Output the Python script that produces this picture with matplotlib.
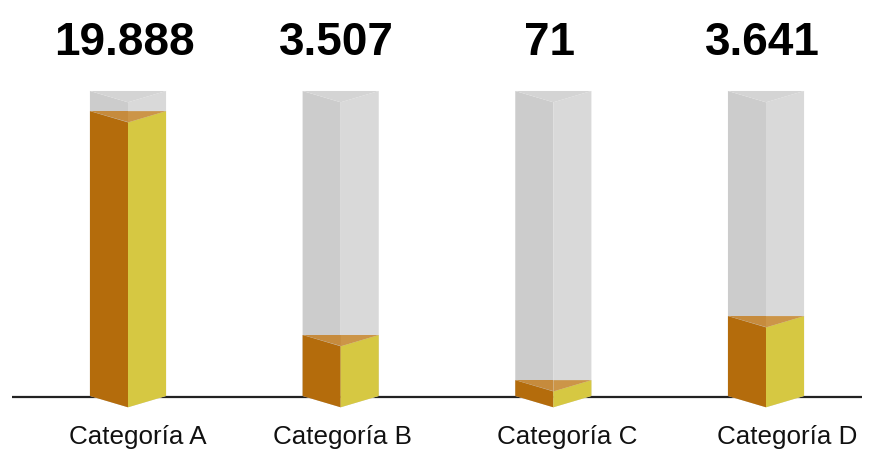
import matplotlib
matplotlib.use("Agg")
import matplotlib.pyplot as plt
from matplotlib.patches import Polygon
from matplotlib import font_manager

# Data
categories = ["Categoría A", "Categoría B", "Categoría C", "Categoría D"]
values = [19888, 3507, 71, 3641]
fill_pct = [93.4, 20.0, 5.2, 26.2]          # fill level of each column, in % of its height

# Styling
c_left = "#b46c0c"
c_right = "#d6c842"
c_top_l = "#c68b3d"
c_top_r = "#cc9548"
g_left = "#cccccc"
g_right = "#d9d9d9"
g_top = "#d4d4d4"

half_w = 0.179      # half width of a column (x units)
depth = 3.7         # drop of the front edge (y units)
label_shift = [0.045, 0.009, 0.066, 0.099]


def has_font(name):
    try:
        font_manager.findfont(font_manager.FontProperties(family=name),
                              fallback_to_default=False)
        return True
    except Exception:
        return False


narrow = "Liberation Sans Narrow" if has_font("Liberation Sans Narrow") else None

fig = plt.figure(figsize=(8.75, 4.56), dpi=100)
ax = fig.add_axes([0, 0, 1, 1])
ax.set_xlim(-0.6019, 3.5125)
ax.set_ylim(-19.34, 130.16)
ax.axis("off")

# baseline
ax.plot([-0.545, 3.451], [-0.4, -0.4], color="#222222", lw=1.6, zorder=1,
        solid_capstyle="butt")


def face(pts, color, z):
    ax.add_patch(Polygon(pts, closed=True, facecolor=color, edgecolor="none",
                         zorder=z, antialiased=True))


for i, (val, p) in enumerate(zip(values, fill_pct)):
    x = i
    l, r = x - half_w, x + half_w
    # container
    face([(l, 0), (x, -depth), (x, 100 - depth), (l, 100)], g_left, 2)
    face([(x, -depth), (r, 0), (r, 100), (x, 100 - depth)], g_right, 2)
    face([(l, 100), (r, 100), (x, 100 - depth)], g_top, 2)
    # fill
    face([(l, 0), (x, -depth), (x, p - depth), (l, p)], c_left, 3)
    face([(x, -depth), (r, 0), (r, p), (x, p - depth)], c_right, 3)
    face([(l, p), (x, p), (x, p - depth)], c_top_l, 4)
    face([(x, p), (r, p), (x, p - depth)], c_top_r, 4)

    txt = f"{val:,}".replace(",", ".")
    if narrow:
        ax.text(x - 0.018, 112.2, txt, ha="center", va="baseline",
                fontsize=38.9, fontweight="bold", family=narrow,
                color="#000000", zorder=5)
    else:
        ax.text(x - 0.018, 112.2, txt, ha="center", va="baseline",
                fontsize=33, fontweight="bold", family="Liberation Sans",
                color="#000000", zorder=5)

    ax.text(x + label_shift[i], -15.4, categories[i], ha="center",
            va="baseline", fontsize=18.7, family="Liberation Sans",
            color="#111111", zorder=5)

fig.savefig("out.png", dpi=100, facecolor="white")
